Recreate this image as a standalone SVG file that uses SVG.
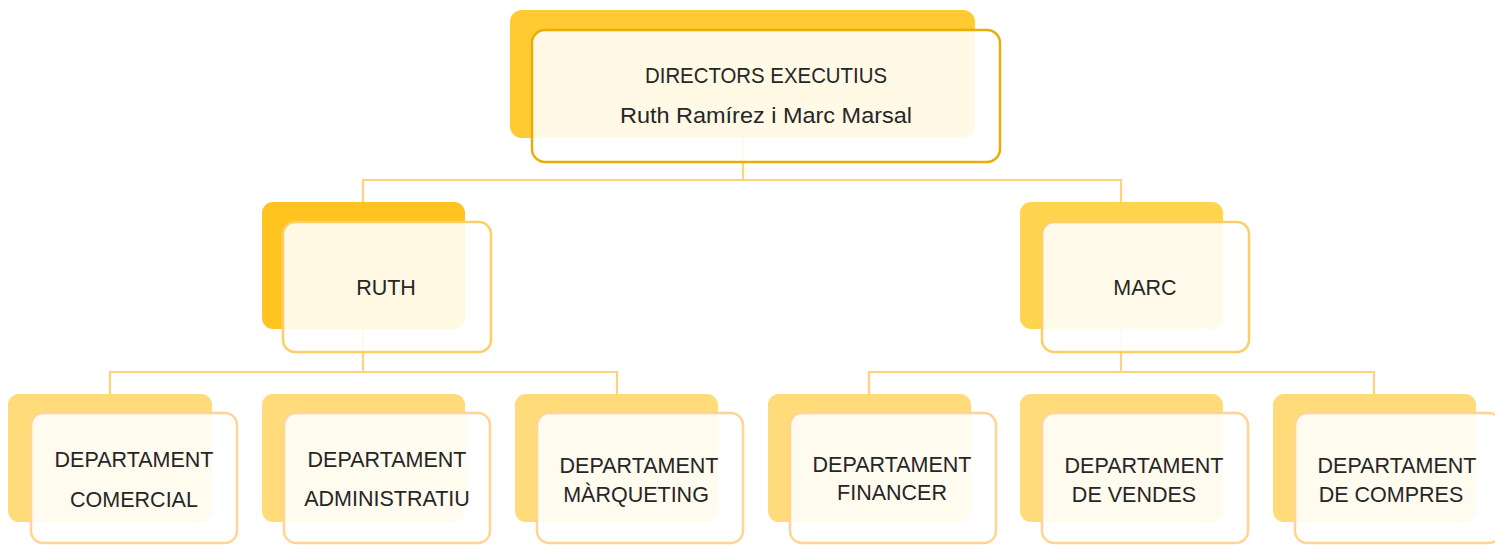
<svg xmlns="http://www.w3.org/2000/svg" width="1495" height="545" viewBox="0 0 1495 545">
<style>
.bg{fill:#ffffff}
.conn{fill:none;stroke:#FFD27F;stroke-width:2.2}
.front{fill:#ffffff;fill-opacity:0.88;stroke-width:2.5}
.t{font-family:"Liberation Sans",Arial,sans-serif;font-size:21.5px;fill:#262626;text-anchor:middle}
.backTop{fill:#FFCA32}
.backRuth{fill:#FFC41F}
.backMarc{fill:#FFD550}
.backDept{fill:#FFDB7A}
.fTop{stroke:#E8AE08}
.fMid{stroke:#FFCD66}
.fDept{stroke:#FFD494}
</style>
<rect class="bg" x="0" y="0" width="1495" height="545"/>
<g id="connectors">
<path class="conn" d="M743 100 V180 M363 202 V180 H1121 V202"/>
<path class="conn" d="M363 300 V372 M110 394 V372 H617 V394"/>
<path class="conn" d="M1121 300 V372 M869 394 V372 H1374 V394"/>
</g>
<g id="directors">
<rect class="backTop" x="510" y="10" width="465" height="128" rx="12"/>
<rect class="front fTop" x="532" y="30" width="468" height="132" rx="13"/>
<text class="t" x="766" y="83" style="font-size:22px" textLength="242" lengthAdjust="spacingAndGlyphs">DIRECTORS EXECUTIUS</text>
<text class="t" x="766" y="123" style="font-size:22px" textLength="292" lengthAdjust="spacingAndGlyphs">Ruth Ramírez i Marc Marsal</text>
</g>
<g id="ruth">
<rect class="backRuth" x="262" y="202" width="203" height="127" rx="11"/>
<rect class="front fMid" x="283" y="222" width="208" height="130" rx="12"/>
<text class="t" x="386" y="295">RUTH</text>
</g>
<g id="marc">
<rect class="backMarc" x="1020" y="202" width="203" height="127" rx="11"/>
<rect class="front fMid" x="1042" y="222" width="207" height="130" rx="12"/>
<text class="t" x="1145" y="295">MARC</text>
</g>
<g id="comercial">
<rect class="backDept" x="8" y="394" width="204" height="128" rx="11"/>
<rect class="front fDept" x="31" y="413" width="206" height="130" rx="12"/>
<text class="t" x="134" y="467">DEPARTAMENT</text>
<text class="t" x="134" y="507">COMERCIAL</text>
</g>
<g id="administratiu">
<rect class="backDept" x="262" y="394" width="203" height="128" rx="11"/>
<rect class="front fDept" x="284" y="413" width="206" height="130" rx="12"/>
<text class="t" x="387" y="467">DEPARTAMENT</text>
<text class="t" x="387" y="506">ADMINISTRATIU</text>
</g>
<g id="marqueting">
<rect class="backDept" x="515" y="394" width="203" height="128" rx="11"/>
<rect class="front fDept" x="537" y="413" width="206" height="130" rx="12"/>
<text class="t" x="639" y="473">DEPARTAMENT</text>
<text class="t" x="636" y="502">MÀRQUETING</text>
</g>
<g id="financer">
<rect class="backDept" x="768" y="394" width="203" height="128" rx="11"/>
<rect class="front fDept" x="790" y="413" width="206" height="130" rx="12"/>
<text class="t" x="892" y="472">DEPARTAMENT</text>
<text class="t" x="892" y="500">FINANCER</text>
</g>
<g id="vendes">
<rect class="backDept" x="1020" y="394" width="203" height="128" rx="11"/>
<rect class="front fDept" x="1042" y="413" width="206" height="130" rx="12"/>
<text class="t" x="1144" y="473">DEPARTAMENT</text>
<text class="t" x="1134" y="502">DE VENDES</text>
</g>
<g id="compres">
<rect class="backDept" x="1273" y="394" width="203" height="128" rx="11"/>
<rect class="front fDept" x="1295" y="413" width="206" height="130" rx="12"/>
<text class="t" x="1397" y="473">DEPARTAMENT</text>
<text class="t" x="1391" y="502">DE COMPRES</text>
</g>
</svg>
